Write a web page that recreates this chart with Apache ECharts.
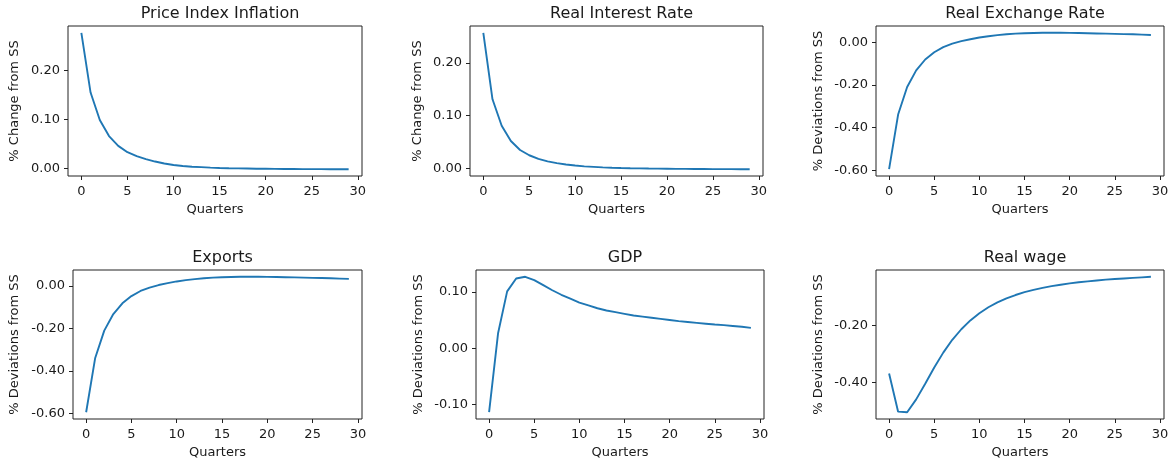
<!DOCTYPE html>
<html>
<head>
<meta charset="utf-8">
<script src="https://cdn.jsdelivr.net/npm/echarts@6/dist/echarts.min.js"></script>
<style>
  html, body { margin: 0; padding: 0; background: #fff; }
  #chart { width: 1172px; height: 466px; }
</style>
</head>
<body>
<div id="chart"></div>
<script>
// impulse responses, 30 quarters
const quarters = [0, 1, 2, 3, 4, 5, 6, 7, 8, 9, 10, 11, 12, 13, 14, 15, 16, 17, 18, 19, 20, 21, 22, 23, 24, 25, 26, 27, 28, 29];

const inflation = [0.277, 0.155, 0.099, 0.066, 0.046, 0.033, 0.025, 0.019, 0.014, 0.010,
  0.007, 0.005, 0.0035, 0.0025, 0.0015, 0.0008, 0.0003, 0.0, -0.0003, -0.0006,
  -0.0008, -0.001, -0.0012, -0.0013, -0.0014, -0.0015, -0.0015, -0.0016, -0.0016, -0.0016];

const realRate = [0.257, 0.131, 0.081, 0.052, 0.035, 0.025, 0.018, 0.0135, 0.010, 0.0075,
  0.0055, 0.004, 0.003, 0.002, 0.0013, 0.0008, 0.0004, 0.0001, -0.0002, -0.0004,
  -0.0006, -0.0008, -0.0009, -0.001, -0.0011, -0.0012, -0.0013, -0.0013, -0.0014, -0.0014];

const exchangeRate = [-0.595, -0.339, -0.210, -0.132, -0.081, -0.047, -0.023, -0.007, 0.005, 0.014,
  0.022, 0.028, 0.033, 0.037, 0.040, 0.042, 0.043, 0.044, 0.044, 0.044,
  0.0435, 0.043, 0.042, 0.041, 0.040, 0.039, 0.038, 0.037, 0.0355, 0.034];

const exportsDev = [-0.595, -0.339, -0.210, -0.132, -0.081, -0.047, -0.023, -0.007, 0.005, 0.014,
  0.022, 0.028, 0.033, 0.037, 0.040, 0.042, 0.043, 0.044, 0.044, 0.044,
  0.0435, 0.043, 0.042, 0.041, 0.040, 0.039, 0.038, 0.037, 0.0355, 0.034];

const gdp = [-0.114, 0.027, 0.101, 0.124, 0.127, 0.121, 0.112, 0.103, 0.095, 0.088,
  0.081, 0.076, 0.071, 0.067, 0.064, 0.061, 0.058, 0.056, 0.054, 0.052,
  0.050, 0.048, 0.0465, 0.045, 0.0435, 0.042, 0.041, 0.0395, 0.038, 0.036];

const realWage = [-0.368, -0.502, -0.504, -0.459, -0.404, -0.347, -0.295, -0.250, -0.213, -0.182,
  -0.157, -0.136, -0.119, -0.105, -0.093, -0.083, -0.075, -0.068, -0.062, -0.057,
  -0.052, -0.048, -0.045, -0.042, -0.039, -0.037, -0.035, -0.033, -0.031, -0.029];

const xTicks = [0, 5, 10, 15, 20, 25, 30];
const yTicksChange = [0, 0.1, 0.2];
const yTicksDevWide = [-0.6, -0.4, -0.2, 0];
const yTicksGdp = [-0.1, 0, 0.1];
const yTicksWage = [-0.4, -0.2];

const TEXT = '#1a1a1a';
const FONT = 'DejaVu Sans';
const LINE = '#1f77b4';

const panels = [
  { title: 'Price Index Inflation', ylabel: '% Change from SS', data: inflation, yTicks: yTicksChange,
    box: { left: 68, top: 26, width: 294, height: 150 }, nameGap: 47 },
  { title: 'Real Interest Rate', ylabel: '% Change from SS', data: realRate, yTicks: yTicksChange,
    box: { left: 470, top: 26, width: 293, height: 150 }, nameGap: 46 },
  { title: 'Real Exchange Rate', ylabel: '% Deviations from SS', data: exchangeRate, yTicks: yTicksDevWide,
    box: { left: 876, top: 26, width: 288, height: 150 }, nameGap: 51 },
  { title: 'Exports', ylabel: '% Deviations from SS', data: exportsDev, yTicks: yTicksDevWide,
    box: { left: 73, top: 270, width: 289, height: 149 }, nameGap: 52 },
  { title: 'GDP', ylabel: '% Deviations from SS', data: gdp, yTicks: yTicksGdp,
    box: { left: 476, top: 270, width: 288, height: 149 }, nameGap: 51 },
  { title: 'Real wage', ylabel: '% Deviations from SS', data: realWage, yTicks: yTicksWage,
    box: { left: 876, top: 270, width: 288, height: 149 }, nameGap: 51 },
];

// matplotlib-style 5% margins around the data
function padded(lo, hi) {
  const m = (hi - lo) * 0.05;
  return [lo - m, hi + m];
}

const option = { animation: false, title: [], grid: [], xAxis: [], yAxis: [], series: [] };

panels.forEach((p, i) => {
  const [xMin, xMax] = padded(quarters[0], quarters[quarters.length - 1]);
  const [yMin, yMax] = padded(Math.min(...p.data), Math.max(...p.data));

  option.grid.push({
    ...p.box, show: true, borderColor: '#222', borderWidth: 1, backgroundColor: 'transparent',
  });
  option.title.push({
    text: p.title, left: p.box.left + p.box.width / 2, top: p.box.top - 25, textAlign: 'center',
    textStyle: { fontFamily: FONT, fontSize: 16, fontWeight: 'normal', color: TEXT },
  });
  option.xAxis.push({
    type: 'value', gridIndex: i, min: xMin, max: xMax,
    name: 'Quarters', nameLocation: 'middle', nameGap: 27,
    nameTextStyle: { fontFamily: FONT, fontSize: 13, color: TEXT },
    axisLine: { show: false, onZero: false },
    axisTick: { show: true, length: 4, customValues: xTicks, lineStyle: { color: '#222' } },
    axisLabel: { customValues: xTicks, margin: 9, fontFamily: FONT, fontSize: 13, color: TEXT },
    splitLine: { show: false },
  });
  option.yAxis.push({
    type: 'value', gridIndex: i, min: yMin, max: yMax,
    name: p.ylabel, nameLocation: 'middle', nameGap: p.nameGap,
    nameTextStyle: { fontFamily: FONT, fontSize: 13, color: TEXT },
    axisLine: { show: false, onZero: false },
    axisTick: { show: true, length: 4, customValues: p.yTicks, lineStyle: { color: '#222' } },
    axisLabel: {
      customValues: p.yTicks, margin: 8, fontFamily: FONT, fontSize: 13, color: TEXT,
      formatter: v => v.toFixed(2),
    },
    splitLine: { show: false },
  });
  option.series.push({
    type: 'line', xAxisIndex: i, yAxisIndex: i,
    data: quarters.map((q, k) => [q, p.data[k]]),
    showSymbol: false, silent: true,
    lineStyle: { color: LINE, width: 1.9 },
  });
});

const chart = echarts.init(document.getElementById('chart'), null, { renderer: 'canvas' });
chart.setOption(option);
</script>
</body>
</html>
